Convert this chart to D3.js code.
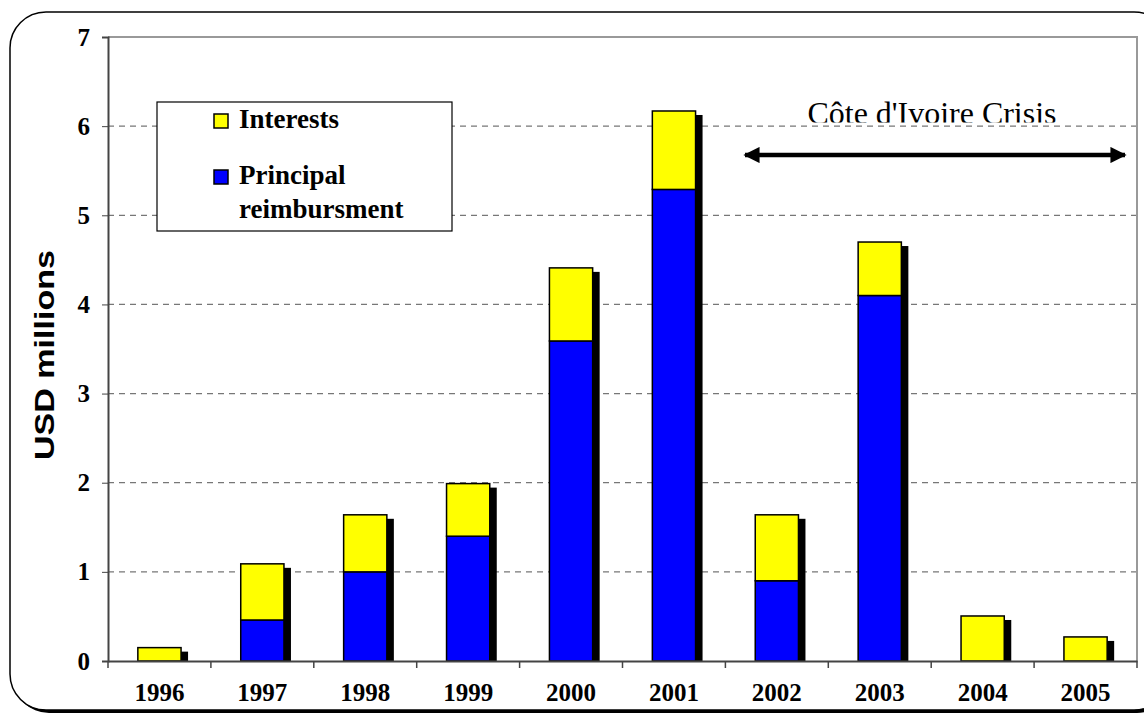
<!DOCTYPE html>
<html>
<head>
<meta charset="utf-8">
<script src="https://d3js.org/d3.v7.min.js"></script>
<style>
  body { margin: 0; background: #fff; }
  svg { display: block; }
  .tick text { font-family: "Liberation Serif", "Times New Roman", serif; font-weight: bold; font-size: 25px; fill: #000; }
  .legend text { font-family: "Liberation Serif", "Times New Roman", serif; font-weight: bold; font-size: 27px; }
</style>
</head>
<body>
<svg width="1144" height="713"></svg>
<script>
const years = ['1996', '1997', '1998', '1999', '2000', '2001', '2002', '2003', '2004', '2005'];
const principal = [0, 0.46, 1.0, 1.4, 3.59, 5.29, 0.9, 4.1, 0, 0];
const interests = [0.15, 0.63, 0.64, 0.59, 0.82, 0.88, 0.74, 0.6, 0.505, 0.27];
const yTicks = [0, 1, 2, 3, 4, 5, 6, 7];
const seriesNames = ['Interests', 'Principal reimbursment'];

const svg = d3.select('svg');

// outer rounded frame with a small shadow
svg.append('rect')
  .attr('x', 13).attr('y', 15).attr('width', 1160).attr('height', 698)
  .attr('rx', 36).attr('fill', '#000');
svg.append('rect')
  .attr('x', 10).attr('y', 12).attr('width', 1160).attr('height', 698)
  .attr('rx', 36).attr('fill', '#fff').attr('stroke', '#000').attr('stroke-width', 1.5);

const plotL = 108, plotR = 1137, plotT = 37, plotB = 661;

const x = d3.scaleBand()
  .domain(years)
  .range([plotL, plotR])
  .paddingInner(0.58)
  .paddingOuter(0.29);

const y = d3.scaleLinear()
  .domain([0, 7])
  .range([plotB, plotT]);

// grid
svg.append('g')
  .selectAll('line')
  .data(yTicks.filter(d => d > 0 && d < 7))
  .enter()
  .append('line')
  .attr('x1', plotL).attr('x2', plotR)
  .attr('y1', d => y(d)).attr('y2', d => y(d))
  .attr('stroke', '#777').attr('stroke-width', 1.2)
  .attr('stroke-dasharray', '6,5');

// plot frame top/right
svg.append('path')
  .attr('d', `M${plotL},${plotT}H${plotR}V${plotB}`)
  .attr('fill', 'none').attr('stroke', '#999').attr('stroke-width', 2);

// annotation, bottom of the glyphs cut off as in the original
svg.append('clipPath').attr('id', 'anclip')
  .append('rect').attr('x', 700).attr('y', 80).attr('width', 430).attr('height', 42.5);
svg.append('text')
  .attr('clip-path', 'url(#anclip)')
  .attr('x', 932).attr('y', 124)
  .attr('text-anchor', 'middle')
  .attr('font-family', '"Liberation Serif", "Times New Roman", serif')
  .attr('font-size', 31)
  .attr('textLength', 249).attr('lengthAdjust', 'spacingAndGlyphs')
  .text("Côte d'Ivoire Crisis");

const defs = svg.append('defs');
defs.append('marker')
  .attr('id', 'ah')
  .attr('viewBox', '0 0 10 10')
  .attr('refX', 9).attr('refY', 5)
  .attr('markerWidth', 4.2).attr('markerHeight', 3.6)
  .attr('markerUnits', 'strokeWidth')
  .attr('orient', 'auto-start-reverse')
  .append('path').attr('d', 'M0,0L10,5L0,10Z').attr('fill', '#000');

svg.append('line')
  .attr('x1', 745).attr('x2', 1125)
  .attr('y1', 155).attr('y2', 155)
  .attr('stroke', '#000').attr('stroke-width', 4.5)
  .attr('marker-start', 'url(#ah)').attr('marker-end', 'url(#ah)');

// bars
const data = years.map((yr, i) => ({ year: yr, p: principal[i], t: principal[i] + interests[i] }));
const bw = x.bandwidth();

const bars = svg.append('g').selectAll('g')
  .data(data)
  .enter()
  .append('g');

bars.append('rect')
  .attr('x', d => x(d.year) + 7)
  .attr('y', d => y(d.t) + 4)
  .attr('width', bw)
  .attr('height', d => plotB - y(d.t) - 4)
  .attr('fill', '#000');

bars.filter(d => d.p > 0).append('rect')
  .attr('x', d => x(d.year))
  .attr('y', d => y(d.p))
  .attr('width', bw)
  .attr('height', d => plotB - y(d.p))
  .attr('fill', '#0000ff').attr('stroke', '#000').attr('stroke-width', 1.5);

bars.append('rect')
  .attr('x', d => x(d.year))
  .attr('y', d => y(d.t))
  .attr('width', bw)
  .attr('height', d => y(d.p) - y(d.t))
  .attr('fill', '#ffff00').attr('stroke', '#000').attr('stroke-width', 1.5);

// axes
const yAxis = svg.append('g')
  .attr('transform', `translate(${plotL},0)`)
  .call(d3.axisLeft(y).tickValues(yTicks).tickFormat(d3.format('d')).tickSize(6).tickPadding(12));
yAxis.select('.domain').attr('stroke', '#444').attr('stroke-width', 2);
yAxis.selectAll('.tick line').attr('stroke', '#444');

const xAxis = svg.append('g')
  .attr('transform', `translate(0,${plotB})`)
  .call(d3.axisBottom(x).tickSize(0).tickPadding(22));
xAxis.select('.domain').attr('stroke', '#444').attr('stroke-width', 2);
xAxis.selectAll('.tick text').attr('dy', '0.71em');

// category separator ticks
svg.append('g').selectAll('line')
  .data(years.concat(['end']))
  .enter()
  .append('line')
  .attr('x1', (d, i) => plotL + i * x.step())
  .attr('x2', (d, i) => plotL + i * x.step())
  .attr('y1', plotB).attr('y2', plotB + 7)
  .attr('stroke', '#444').attr('stroke-width', 1.5);

// y title
svg.append('text')
  .attr('transform', 'translate(54,355) rotate(-90)')
  .attr('text-anchor', 'middle')
  .attr('font-family', '"Liberation Sans", Arial, sans-serif')
  .attr('font-weight', 'bold')
  .attr('font-size', 28)
  .attr('textLength', 210).attr('lengthAdjust', 'spacingAndGlyphs')
  .text('USD millions');

// legend
const lg = svg.append('g').attr('class', 'legend');
lg.append('rect')
  .attr('x', 157).attr('y', 102).attr('width', 295).attr('height', 129)
  .attr('fill', '#fff').attr('stroke', '#000').attr('stroke-width', 1.2);
const swatchColors = ['#ffff00', '#0000ff'];
const swatchY = [114, 170];
lg.selectAll('.sw')
  .data(seriesNames)
  .enter()
  .append('rect')
  .attr('class', 'sw')
  .attr('x', 214).attr('y', (d, i) => swatchY[i])
  .attr('width', 14).attr('height', 14)
  .attr('fill', (d, i) => swatchColors[i])
  .attr('stroke', '#000').attr('stroke-width', 1.5);
lg.append('text').attr('x', 239).attr('y', 128).text('Interests');
lg.append('text').attr('x', 239).attr('y', 184).text('Principal');
lg.append('text').attr('x', 239).attr('y', 218).text('reimbursment');
</script>
</body>
</html>
